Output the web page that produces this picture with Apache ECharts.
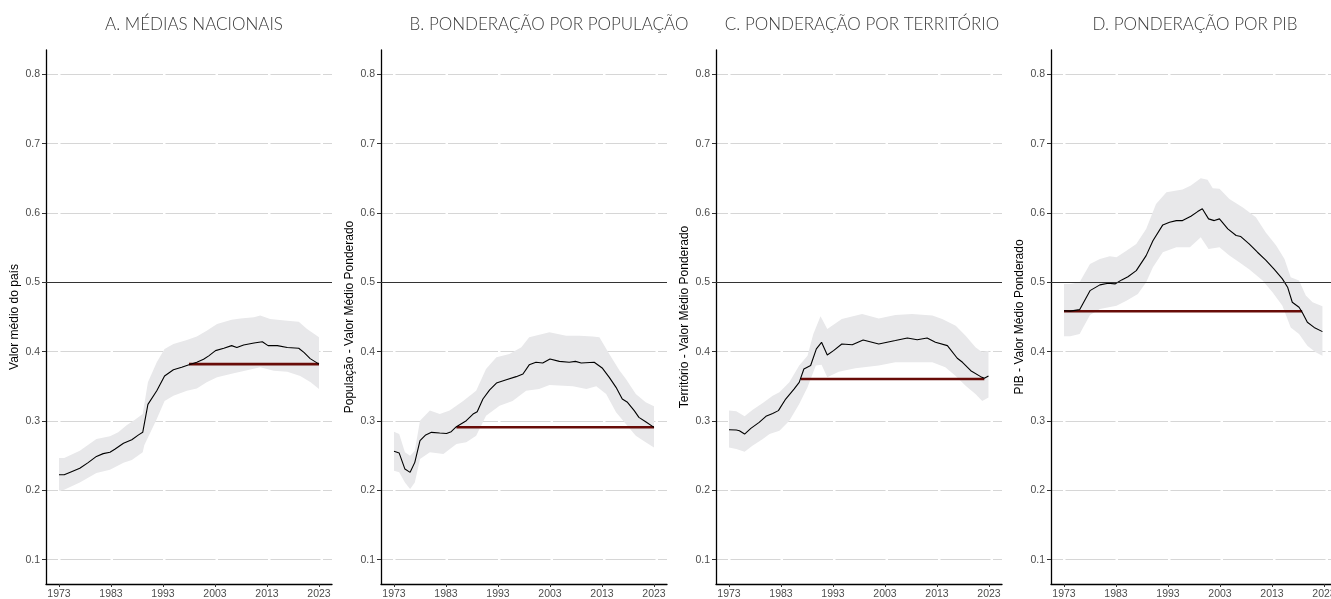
<!DOCTYPE html>
<html>
<head>
<meta charset="utf-8">
<script src="https://cdn.jsdelivr.net/npm/echarts@6/dist/echarts.min.js"></script>
<style>
  html, body { margin: 0; padding: 0; background: #fff; }
  #chart { width: 1331px; height: 599px; }
</style>
</head>
<body>
<div id="chart"></div>
<script>
// eixos
var xTicks = [1973, 1983, 1993, 2003, 2013, 2023];
var yTicks = [0.1, 0.2, 0.3, 0.4, 0.5, 0.6, 0.7, 0.8];
var titles = ['A. MÉDIAS NACIONAIS', 'B. PONDERAÇÃO POR POPULAÇÃO', 'C. PONDERAÇÃO POR TERRITÓRIO', 'D. PONDERAÇÃO POR PIB'];
var yNames = ['Valor médio do país', 'População - Valor Médio Ponderado', 'Território - Valor Médio Ponderado', 'PIB - Valor Médio Ponderado'];

// A. médias nacionais
var lineA = [[1973,0.2225],[1974,0.2225],[1975.4,0.227],[1977,0.232],[1978.6,0.240],[1980.2,0.249],[1981.5,0.253],[1982.8,0.255],[1983.8,0.2596],[1985.4,0.268],[1987,0.273],[1988.3,0.280],[1989.1,0.2837],[1990.1,0.324],[1991.8,0.3437],[1993.3,0.365],[1995,0.374],[1996.6,0.3775],[1998,0.381],[1999.5,0.3847],[2000.8,0.389],[2001.8,0.394],[2003.1,0.4015],[2004.7,0.405],[2006.2,0.4087],[2007.2,0.406],[2008.5,0.4097],[2010.5,0.4125],[2012.1,0.4144],[2013.2,0.4087],[2015,0.4087],[2016.9,0.406],[2019.1,0.405],[2020.1,0.399],[2021.3,0.390],[2023,0.382]];
var upperA = [[1973,0.2466],[1974,0.2466],[1977,0.257],[1980.2,0.274],[1982.8,0.278],[1984.4,0.2837],[1986,0.294],[1987.6,0.302],[1989.1,0.310],[1990.1,0.356],[1991.8,0.3847],[1993.3,0.404],[1995,0.411],[1997.6,0.417],[1999.5,0.422],[2001.4,0.430],[2003.4,0.440],[2006.2,0.446],[2007.9,0.448],[2010.5,0.4496],[2011.7,0.452],[2013.6,0.447],[2016.9,0.4447],[2019.1,0.443],[2020.7,0.4328],[2023,0.4207]];
var lowerA = [[1973,0.1994],[1974,0.201],[1977,0.2115],[1980.2,0.225],[1982.8,0.2297],[1985.4,0.240],[1987,0.2437],[1989.1,0.2548],[1989.4,0.265],[1991.8,0.303],[1993.3,0.329],[1995,0.3365],[1997.6,0.3437],[1999.5,0.347],[2001.4,0.3558],[2003.4,0.363],[2006.6,0.369],[2007.9,0.371],[2011.7,0.3775],[2014.3,0.3726],[2016.9,0.371],[2019.4,0.365],[2021.4,0.3558],[2023,0.346]];
var redA = [[1998,0.382],[2023,0.382]];

// B. ponderação por população
var lineB = [[1973,0.2563],[1974,0.2538],[1975.1,0.2307],[1976.1,0.226],[1977,0.2404],[1978,0.2716],[1979.1,0.280],[1980.2,0.2837],[1981.8,0.2827],[1983.1,0.282],[1984,0.2846],[1985,0.2918],[1986.9,0.3005],[1988.2,0.310],[1989,0.3135],[1990.1,0.3317],[1991.4,0.345],[1992.7,0.3548],[1994.6,0.3596],[1996.5,0.364],[1997.8,0.3678],[1999,0.381],[2000.3,0.3847],[2001.6,0.3837],[2003,0.3895],[2004.8,0.386],[2006.7,0.3847],[2007.9,0.386],[2009,0.3837],[2011.5,0.3847],[2013.1,0.376],[2014.4,0.363],[2015.7,0.3486],[2016.9,0.3317],[2017.9,0.327],[2019.2,0.315],[2020.1,0.3053],[2021.4,0.299],[2023,0.2909]];
var upperB = [[1973,0.2846],[1974,0.2812],[1975.1,0.2548],[1976.1,0.250],[1977,0.257],[1978,0.3005],[1979.9,0.315],[1981.8,0.310],[1983.7,0.315],[1986.3,0.329],[1988.8,0.3437],[1990.7,0.375],[1992.7,0.392],[1995.2,0.3967],[1997.5,0.4063],[1999,0.4208],[2002.9,0.428],[2006.1,0.423],[2008.7,0.423],[2011.2,0.422],[2012.5,0.4208],[2014.4,0.3967],[2016.4,0.3726],[2017.6,0.3606],[2019.5,0.339],[2021.4,0.327],[2023,0.3212]];
var lowerB = [[1973,0.2283],[1974,0.226],[1975.1,0.2115],[1976.1,0.2019],[1977,0.2115],[1978,0.2452],[1979.9,0.2548],[1982.5,0.2524],[1985,0.2668],[1986.9,0.2693],[1988.8,0.2788],[1990.7,0.3077],[1993.3,0.322],[1995.8,0.329],[1998.4,0.3437],[2000.9,0.346],[2002.9,0.352],[2007.4,0.350],[2010,0.346],[2011.9,0.350],[2013.8,0.339],[2015.7,0.3125],[2017.6,0.2957],[2019.5,0.2788],[2021.4,0.2693],[2023,0.262]];
var redB = [[1985,0.291],[2023,0.291]];

// C. ponderação por território
var lineC = [[1973,0.2875],[1974.4,0.287],[1975,0.286],[1976,0.2812],[1977.2,0.2894],[1978.8,0.298],[1980.1,0.3068],[1981.4,0.311],[1982.5,0.315],[1983.9,0.3317],[1985.5,0.346],[1986.5,0.3558],[1987.4,0.375],[1988.7,0.380],[1989.8,0.404],[1990.8,0.4135],[1991.9,0.3952],[1993.1,0.4015],[1994.7,0.411],[1996.7,0.410],[1998.8,0.4169],[2001.8,0.411],[2003.4,0.4135],[2005,0.416],[2007.3,0.4198],[2009.2,0.4173],[2011.1,0.4198],[2012.7,0.4135],[2015,0.4087],[2016.9,0.3905],[2017.9,0.3847],[2019.5,0.3726],[2021.4,0.364],[2022.1,0.3616],[2022.9,0.365]];
var upperC = [[1973,0.315],[1974.4,0.314],[1976,0.3068],[1977.5,0.316],[1979.5,0.326],[1981.4,0.3365],[1982.7,0.3414],[1984.6,0.3558],[1986.5,0.380],[1988.1,0.394],[1989.2,0.425],[1990.6,0.451],[1991.9,0.4327],[1994.7,0.447],[1998.6,0.4544],[2001.8,0.448],[2005,0.453],[2008.2,0.4544],[2012.1,0.452],[2014,0.447],[2016.6,0.4375],[2018.5,0.423],[2020.4,0.4063],[2021.7,0.399],[2022.9,0.4015]];
var lowerC = [[1973,0.262],[1974.4,0.2596],[1976,0.2557],[1977.5,0.2644],[1979.5,0.274],[1980.8,0.2812],[1982.7,0.286],[1984.6,0.3005],[1986.5,0.3245],[1988.1,0.3486],[1989.7,0.380],[1990.8,0.381],[1991.9,0.363],[1994.1,0.371],[1997.3,0.376],[2001.8,0.380],[2005,0.3847],[2012.1,0.3847],[2014.6,0.3775],[2016.6,0.365],[2018.5,0.351],[2020.4,0.339],[2021.7,0.329],[2022.9,0.334]];
var redC = [[1986.8,0.3606],[2022.1,0.3606]];

// D. ponderação por PIB
var lineD = [[1973,0.459],[1974.2,0.4585],[1976,0.4606],[1978,0.488],[1979.9,0.4963],[1981.5,0.4987],[1982.8,0.4977],[1984.1,0.5035],[1985.3,0.508],[1986.9,0.5168],[1988.8,0.5385],[1990.1,0.560],[1992,0.5828],[1993.3,0.5866],[1994.6,0.589],[1995.8,0.589],[1997.4,0.5953],[1998.7,0.602],[1999.6,0.606],[2000.8,0.5915],[2001.9,0.589],[2002.9,0.5915],[2004.5,0.577],[2006.1,0.5675],[2007,0.566],[2008.6,0.5554],[2010.2,0.5434],[2011.8,0.532],[2013.4,0.519],[2015,0.505],[2016,0.493],[2016.9,0.4713],[2018.2,0.464],[2018.8,0.4568],[2019.8,0.4424],[2021.1,0.435],[2022.7,0.4289]];
var upperD = [[1973,0.4977],[1974.2,0.4977],[1976,0.500],[1978,0.5266],[1979.9,0.5338],[1981.8,0.5377],[1983.1,0.536],[1985,0.5457],[1986.9,0.5554],[1988.8,0.577],[1990.7,0.613],[1992.7,0.630],[1995.8,0.6338],[1997.4,0.6396],[1999.3,0.650],[2000.6,0.648],[2001.6,0.6358],[2002.9,0.6348],[2004.8,0.620],[2007.4,0.608],[2009.9,0.594],[2011.8,0.572],[2013.8,0.553],[2015.4,0.5338],[2016.6,0.5074],[2018.2,0.5025],[2019.5,0.4809],[2020.8,0.4713],[2022.7,0.4655]];
var lowerD = [[1973,0.4222],[1974.2,0.4222],[1976,0.4255],[1978,0.453],[1979.9,0.4616],[1983.1,0.4664],[1985,0.4736],[1987.2,0.4833],[1988.8,0.500],[1990.1,0.5218],[1992,0.5434],[1994.6,0.5506],[1997.2,0.5506],[1999.3,0.565],[2000.8,0.548],[2002.9,0.5506],[2004.8,0.5385],[2006.7,0.529],[2008.6,0.519],[2011.2,0.5025],[2013.1,0.4857],[2015,0.4664],[2016.6,0.435],[2018.2,0.4255],[2019.8,0.4087],[2021.4,0.399],[2022.7,0.394]];
var redD = [[1973,0.4583],[2018.8,0.4583]];

var panels = [
  { line: lineA, upper: upperA, lower: lowerA, red: redA },
  { line: lineB, upper: upperB, lower: lowerB, red: redB },
  { line: lineC, upper: upperC, lower: lowerC, red: redC },
  { line: lineD, upper: upperD, lower: lowerD, red: redD }
];

var gridLefts = [46, 381, 716, 1051];
var titleCenters = [194, 549, 862, 1195];

var chart = echarts.init(document.getElementById('chart'));

function bandRender(upper, lower) {
  return function (params, api) {
    if (params.dataIndex !== 0) return null;
    var pts = [];
    upper.forEach(function (p) { pts.push(api.coord(p)); });
    lower.slice().reverse().forEach(function (p) { pts.push(api.coord(p)); });
    return {
      type: 'polygon',
      shape: { points: pts },
      style: { fill: '#e8e8ea' },
      silent: true
    };
  };
}

var option = {
  animation: false,
  backgroundColor: '#fff',
  title: [],
  grid: [],
  xAxis: [],
  yAxis: [],
  series: []
};

panels.forEach(function (p, i) {
  option.title.push({
    text: titles[i],
    left: titleCenters[i],
    top: 25,
    textAlign: 'center',
    textVerticalAlign: 'middle',
    padding: 0,
    textStyle: { fontFamily: 'Lato', fontWeight: 300, fontSize: 17, color: '#3a3a3a' }
  });
  option.grid.push({ left: gridLefts[i], top: 50, width: 286, height: 534, outerBoundsMode: 'none', containLabel: false });
  option.xAxis.push({
    type: 'value', gridIndex: i, min: 1970.5, max: 2025.5,
    axisLine: { show: true, onZero: false, lineStyle: { color: '#000', width: 1.3 } },
    axisTick: { show: true, length: 3, customValues: xTicks, lineStyle: { color: '#333' } },
    axisLabel: {
      customValues: xTicks, margin: 5, fontSize: 10.5, color: '#4d4d4d', fontFamily: 'Liberation Sans, Arial',
      formatter: function (v) { return String(v); }
    },
    splitLine: { show: false }
  });
  option.yAxis.push({
    type: 'value', gridIndex: i, min: 0.065, max: 0.835,
    name: yNames[i], nameLocation: 'middle', nameGap: 25,
    nameTextStyle: { fontSize: 12, color: '#000', fontFamily: 'Liberation Sans, Arial' },
    axisLine: { show: true, lineStyle: { color: '#000', width: 1.3 } },
    axisTick: { show: true, length: 4, customValues: yTicks, lineStyle: { color: '#333' } },
    axisLabel: {
      customValues: yTicks, margin: 6, fontSize: 10.5, color: '#4d4d4d', fontFamily: 'Liberation Sans, Arial',
      formatter: function (v) { return v.toFixed(1); }
    },
    splitLine: { show: true, lineStyle: { color: '#d6d6d6', width: 1.2, type: [50, 2.5], dashOffset: 38 } }
  });
  option.series.push({
    type: 'custom', xAxisIndex: i, yAxisIndex: i, z: 1,
    renderItem: bandRender(p.upper, p.lower),
    data: [p.upper[0]],
    silent: true
  });
  option.series.push({
    type: 'line', xAxisIndex: i, yAxisIndex: i, z: 3,
    data: p.red, symbol: 'none', silent: true,
    lineStyle: { color: '#680c08', width: 2.6 }
  });
  option.series.push({
    type: 'line', xAxisIndex: i, yAxisIndex: i, z: 4,
    data: p.line, symbol: 'none', silent: true,
    lineStyle: { color: '#000', width: 1.1 },
    markLine: {
      silent: true, symbol: 'none', label: { show: false },
      lineStyle: { color: '#333', width: 1.1, type: 'solid' },
      data: [{ yAxis: 0.5 }]
    }
  });
});

chart.setOption(option);
</script>
</body>
</html>
